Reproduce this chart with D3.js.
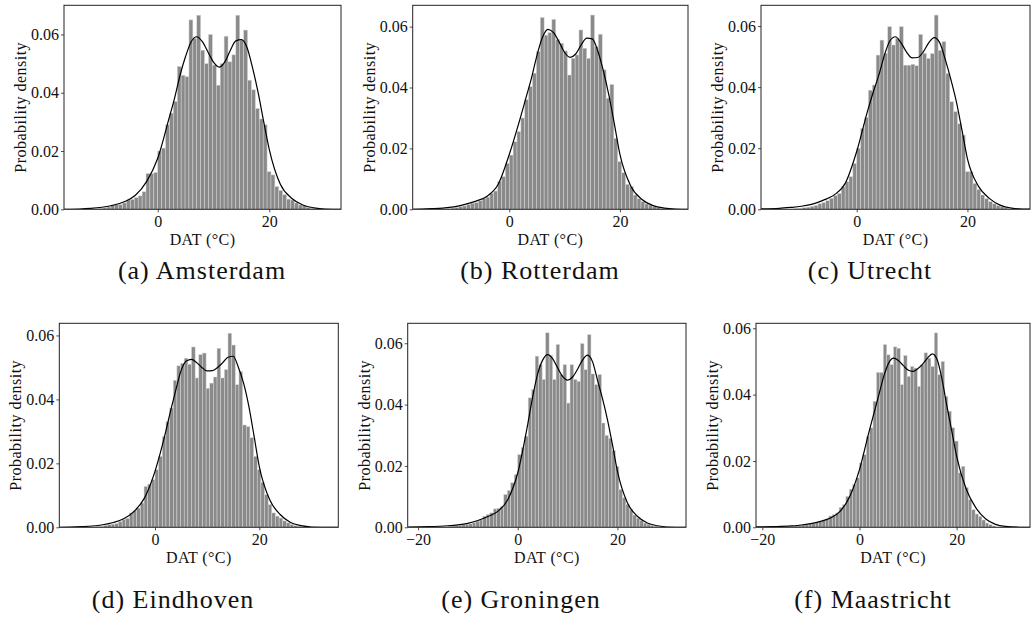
<!DOCTYPE html>
<html>
<head>
<meta charset="utf-8">
<script src="https://d3js.org/d3.v7.min.js"></script>
<style>
  body { margin: 0; background: #fff; }
  text { font-family: "Liberation Serif", "Times New Roman", serif; fill: #111; }
  .tick line { stroke: #222; stroke-width: 0.8; }
  .tick text { font-size: 16px; }
</style>
</head>
<body>
<div id="my_dataviz"></div>
<script>

// histogram bins (density), bin width 0.7 degC
var binWidth = 0.7;
var binStarts = [-11.2, -11.2, -11.2, -11.2, -14.0, -14.0];

var densAmsterdam = [0.0002,0.0003,0.0005,0.0008,0.0015,0.0016,0.0016,0.0022,0.0032,0.0034,0.0040,0.0046,0.0060,0.0123,0.0122,0.0126,
  0.0200,0.0210,0.0290,0.0330,0.0370,0.0490,0.0460,0.0455,0.0650,0.0586,0.0666,0.0546,0.0500,0.0600,0.0495,0.0426,
  0.0500,0.0594,0.0506,0.0530,0.0666,0.0580,0.0615,0.0443,0.0410,0.0346,0.0310,0.0290,0.0129,0.0118,0.0078,0.0065,
  0.0050,0.0035,0.0032,0.0022,0.0015,0.0012,0.0006,0.0003];
var densRotterdam = [0.0002,0.0004,0.0006,0.0009,0.0011,0.0016,0.0020,0.0022,0.0028,0.0036,0.0040,0.0053,0.0060,0.0091,0.0107,0.0151,
  0.0178,0.0222,0.0255,0.0300,0.0360,0.0403,0.0447,0.0518,0.0630,0.0572,0.0580,0.0624,0.0558,0.0545,0.0520,0.0441,
  0.0496,0.0507,0.0589,0.0529,0.0496,0.0638,0.0534,0.0575,0.0458,0.0365,0.0410,0.0233,0.0157,0.0120,0.0082,0.0075,
  0.0047,0.0035,0.0025,0.0018,0.0014,0.0009,0.0005,0.0003];
var densUtrecht = [0.0002,0.0003,0.0005,0.0007,0.0010,0.0013,0.0018,0.0022,0.0028,0.0036,0.0045,0.0052,0.0074,0.0090,0.0107,0.0150,
  0.0200,0.0265,0.0300,0.0390,0.0407,0.0505,0.0554,0.0511,0.0598,0.0538,0.0560,0.0598,0.0472,0.0472,0.0475,0.0470,
  0.0573,0.0511,0.0494,0.0510,0.0636,0.0521,0.0549,0.0445,0.0352,0.0320,0.0280,0.0243,0.0123,0.0123,0.0085,0.0065,
  0.0047,0.0035,0.0025,0.0018,0.0012,0.0009,0.0005,0.0003];
var densEindhoven = [0.0002,0.0003,0.0006,0.0008,0.0010,0.0012,0.0018,0.0024,0.0028,0.0045,0.0052,0.0060,0.0076,0.0128,0.0135,0.0149,
  0.0180,0.0222,0.0284,0.0330,0.0373,0.0460,0.0505,0.0513,0.0529,0.0510,0.0564,0.0467,0.0540,0.0545,0.0435,0.0451,
  0.0470,0.0560,0.0467,0.0493,0.0607,0.0570,0.0446,0.0487,0.0320,0.0315,0.0280,0.0222,0.0180,0.0140,0.0102,0.0071,
  0.0045,0.0035,0.0029,0.0020,0.0014,0.0009,0.0005,0.0003];
var densGroningen = [0.0003,0.0004,0.0005,0.0006,0.0008,0.0010,0.0011,0.0015,0.0020,0.0024,0.0036,0.0042,0.0047,0.0060,0.0062,0.0068,
  0.0107,0.0120,0.0145,0.0172,0.0237,0.0260,0.0297,0.0422,0.0449,0.0558,0.0530,0.0482,0.0634,0.0560,0.0482,0.0596,
  0.0498,0.0530,0.0405,0.0530,0.0482,0.0476,0.0599,0.0514,0.0628,0.0500,0.0465,0.0498,0.0340,0.0300,0.0290,0.0250,
  0.0199,0.0123,0.0096,0.0075,0.0058,0.0040,0.0030,0.0022,0.0014,0.0010,0.0005,0.0003];
var densMaastricht = [0.0003,0.0004,0.0005,0.0006,0.0008,0.0010,0.0012,0.0014,0.0018,0.0022,0.0025,0.0034,0.0038,0.0043,0.0060,0.0068,
  0.0093,0.0115,0.0129,0.0149,0.0194,0.0219,0.0274,0.0300,0.0380,0.0467,0.0467,0.0551,0.0520,0.0490,0.0544,0.0540,
  0.0430,0.0518,0.0455,0.0485,0.0480,0.0425,0.0490,0.0526,0.0510,0.0485,0.0586,0.0460,0.0500,0.0395,0.0350,0.0300,
  0.0260,0.0164,0.0184,0.0120,0.0083,0.0053,0.0040,0.0033,0.0022,0.0013,0.0008,0.0004];

// kernel density estimate, read at these temperatures
var kdeX = [-22,-18,-14,-12,-10,-8,-6,-4,-2,0,2,3,4,5,6,7,8,9,10,11,12,13,14,15,16,17,18,19,20,22,24,26,28,30,34,38];
var kdeAmsterdam = [0,0,0.0001,0.0003,0.0007,0.0014,0.0026,0.0048,0.0095,0.0175,0.0310,0.0380,0.0460,0.0525,0.0575,0.0592,0.0575,0.0540,
  0.0505,0.0488,0.0505,0.0545,0.0578,0.0582,0.0555,0.0485,0.0400,0.0300,0.0205,0.0085,0.0038,0.0015,0.0005,0.0001,0,0];
var kdeRotterdam = [0,0,0.0002,0.0004,0.0008,0.0016,0.0027,0.0043,0.0082,0.0180,0.0300,0.0365,0.0430,0.0505,0.0565,0.0591,0.0580,0.0550,
  0.0515,0.0499,0.0510,0.0540,0.0562,0.0560,0.0520,0.0455,0.0375,0.0280,0.0180,0.0075,0.0032,0.0012,0.0004,0.0001,0,0];
var kdeUtrecht = [0,0.0001,0.0003,0.0006,0.0010,0.0017,0.0030,0.0048,0.0088,0.0190,0.0325,0.0385,0.0440,0.0505,0.0552,0.0565,0.0545,0.0515,
  0.0496,0.0497,0.0515,0.0545,0.0562,0.0545,0.0490,0.0425,0.0352,0.0260,0.0165,0.0075,0.0035,0.0013,0.0004,0.0001,0,0];
var kdeEindhoven = [0,0,0.0002,0.0004,0.0008,0.0015,0.0027,0.0050,0.0092,0.0175,0.0295,0.0365,0.0430,0.0490,0.0520,0.0525,0.0515,0.0500,
  0.0489,0.0490,0.0500,0.0515,0.0532,0.0535,0.0500,0.0450,0.0378,0.0285,0.0190,0.0086,0.0040,0.0015,0.0005,0.0001,0,0];
var kdeGroningen = [0.0001,0.0002,0.0005,0.0008,0.0013,0.0022,0.0035,0.0052,0.0090,0.0177,0.0335,0.0425,0.0500,0.0545,0.0563,0.0550,0.0520,0.0492,
  0.0480,0.0490,0.0515,0.0545,0.0561,0.0540,0.0480,0.0420,0.0351,0.0270,0.0183,0.0080,0.0036,0.0014,0.0005,0.0001,0,0];
var kdeMaastricht = [0.0001,0.0002,0.0004,0.0007,0.0011,0.0018,0.0028,0.0048,0.0093,0.0174,0.0290,0.0345,0.0400,0.0455,0.0495,0.0510,0.0503,0.0488,
  0.0474,0.0470,0.0478,0.0492,0.0510,0.0523,0.0505,0.0445,0.0365,0.0290,0.0214,0.0114,0.0058,0.0025,0.0009,0.0003,0,0];

var cities = ["Amsterdam", "Rotterdam", "Utrecht", "Eindhoven", "Groningen", "Maastricht"];
var letters = ["a", "b", "c", "d", "e", "f"];
var densities = [densAmsterdam, densRotterdam, densUtrecht, densEindhoven, densGroningen, densMaastricht];
var kdes = [kdeAmsterdam, kdeRotterdam, kdeUtrecht, kdeEindhoven, kdeGroningen, kdeMaastricht];

var xTicks = [-20, 0, 20];
var yTicks = [0, 0.02, 0.04, 0.06];
var xLabel = "DAT (°C)";
var yLabel = "Probability density";

// axes boxes in pixels, plus axis limits
var panels = [
  {left: 64,    right: 341,  top: 5.3,   bottom: 209.3, xmin: -16.8,  xmax: 32.85, ymax: 0.0700, capX: 202, capY: 279},
  {left: 412.7, right: 688,  top: 5.3,   bottom: 209.3, xmin: -17.45, xmax: 32.3,  ymax: 0.0670, capX: 540, capY: 279},
  {left: 761,   right: 1030, top: 5.3,   bottom: 209.3, xmin: -17.3,  xmax: 31.3,  ymax: 0.0668, capX: 870, capY: 279},
  {left: 59.3,  right: 338.3,top: 323.3, bottom: 527.3, xmin: -18.35, xmax: 35.15, ymax: 0.0638, capX: 173, capY: 608},
  {left: 407.7, right: 686,  top: 323.3, bottom: 527.3, xmin: -22.07, xmax: 33.76, ymax: 0.0665, capX: 521, capY: 608},
  {left: 756,   right: 1030, top: 323.3, bottom: 527.3, xmin: -21.3,  xmax: 35.1,  ymax: 0.0615, capX: 873, capY: 608}
];

var svg = d3.select("#my_dataviz")
  .append("svg")
  .attr("width", 1031)
  .attr("height", 617);

panels.forEach(function(p, k) {
  var x = d3.scaleLinear().domain([p.xmin, p.xmax]).range([p.left, p.right]);
  var y = d3.scaleLinear().domain([0, p.ymax]).range([p.bottom, p.top]);

  svg.append("clipPath").attr("id", "clip" + k)
    .append("rect")
    .attr("x", p.left).attr("y", p.top)
    .attr("width", p.right - p.left).attr("height", p.bottom - p.top);

  var g = svg.append("g");

  // bars
  var start = binStarts[k];
  g.append("g").attr("clip-path", "url(#clip" + k + ")")
    .selectAll("rect")
    .data(densities[k])
    .enter()
    .append("rect")
    .attr("x", function(d, i) { return x(start + i * binWidth); })
    .attr("width", x(start + binWidth) - x(start))
    .attr("y", function(d) { return y(d); })
    .attr("height", function(d) { return y(0) - y(d); })
    .style("fill", "#8a8a8a")
    .style("stroke", "#d8d8d8")
    .style("stroke-width", 0.5);

  // kde line
  var line = d3.line()
    .x(function(d, i) { return x(kdeX[i]); })
    .y(function(d) { return y(d); })
    .curve(d3.curveMonotoneX);
  g.append("path")
    .attr("clip-path", "url(#clip" + k + ")")
    .datum(kdes[k])
    .attr("d", line)
    .style("fill", "none")
    .style("stroke", "#000")
    .style("stroke-width", 1.2);

  // frame
  g.append("rect")
    .attr("x", p.left).attr("y", p.top)
    .attr("width", p.right - p.left).attr("height", p.bottom - p.top)
    .style("fill", "none")
    .style("stroke", "#222")
    .style("stroke-width", 1);

  // axes
  var xa = g.append("g")
    .attr("transform", "translate(0," + p.bottom + ")")
    .call(d3.axisBottom(x)
      .tickValues(xTicks.filter(function(t) { return t >= p.xmin && t <= p.xmax; }))
      .tickFormat(d3.format("d"))
      .tickSize(3).tickPadding(3));
  xa.select(".domain").remove();

  var ya = g.append("g")
    .attr("transform", "translate(" + p.left + ",0)")
    .call(d3.axisLeft(y)
      .tickValues(yTicks)
      .tickFormat(d3.format(".2f"))
      .tickSize(3).tickPadding(2));
  ya.select(".domain").remove();

  g.append("text")
    .attr("x", (p.left + p.right) / 2)
    .attr("y", p.bottom + 36)
    .attr("text-anchor", "middle")
    .style("font-size", "16px")
    .style("letter-spacing", "0.4px")
    .text(xLabel);

  g.append("text")
    .attr("transform", "translate(" + (p.left - 38) + "," + ((p.top + p.bottom) / 2) + ") rotate(-90)")
    .attr("text-anchor", "middle")
    .style("font-size", "16px")
    .style("letter-spacing", "0.5px")
    .text(yLabel);

  g.append("text")
    .attr("x", p.capX)
    .attr("y", p.capY)
    .attr("text-anchor", "middle")
    .style("font-size", "26px")
    .style("letter-spacing", "1px")
    .text("(" + letters[k] + ") " + cities[k]);
});

</script>
</body>
</html>
